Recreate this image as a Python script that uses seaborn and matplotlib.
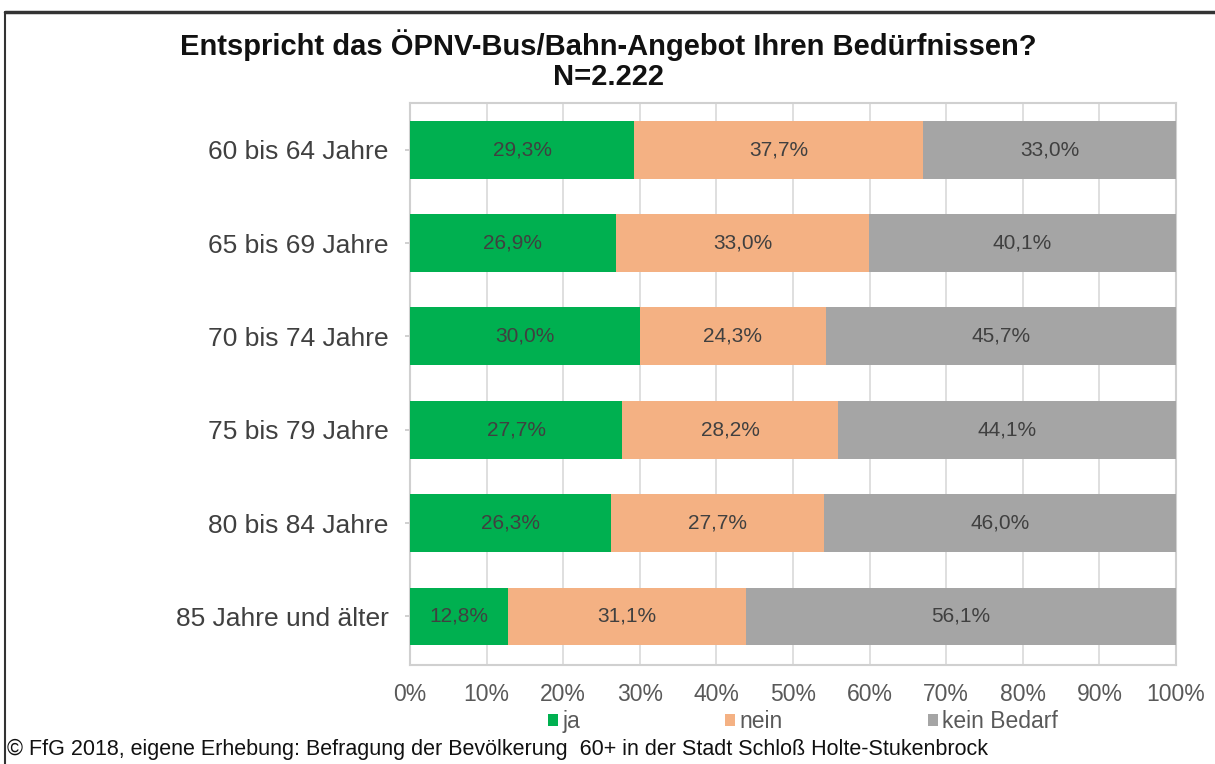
import matplotlib
matplotlib.use("Agg")
import matplotlib.pyplot as plt
import seaborn as sns
import pandas as pd
import numpy as np
from matplotlib.lines import Line2D
from matplotlib.patches import Patch

categories = ["60 bis 64 Jahre", "65 bis 69 Jahre", "70 bis 74 Jahre",
              "75 bis 79 Jahre", "80 bis 84 Jahre", "85 Jahre und älter"]
ja = [29.3, 26.9, 30.0, 27.7, 26.3, 12.8]
nein = [37.7, 33.0, 24.3, 28.2, 27.7, 31.1]
kein_bedarf = [33.0, 40.1, 45.7, 44.1, 46.0, 56.1]
series_names = ["ja", "nein", "kein Bedarf"]
xticks = [0, 10, 20, 30, 40, 50, 60, 70, 80, 90, 100]

colors = ["#00B050", "#F4B183", "#A5A5A5"]

sns.set_theme(style="white")
plt.rcParams['font.family'] = ['Liberation Sans', 'DejaVu Sans']

fig = plt.figure(figsize=(12.15, 7.64), dpi=100)
ax = fig.add_axes([0.3374, 0.1296, 0.6305, 0.7356])

df = pd.DataFrame({"cat": categories, "ja": ja, "nein": nein, "kein": kein_bedarf})
df["c1"] = df["ja"]
df["c2"] = df["ja"] + df["nein"]
df["c3"] = df["c2"] + df["kein"]

for col, colr in zip(["c3", "c2", "c1"], colors[::-1]):
    sns.barplot(data=df, y="cat", x=col, orient="h", color=colr, width=0.62,
                saturation=1, ax=ax, zorder=3, linewidth=0)

# labels
for i in range(len(categories)):
    starts = [0, ja[i], ja[i] + nein[i]]
    vals = [ja[i], nein[i], kein_bedarf[i]]
    for s, v in zip(starts, vals):
        ax.text(s + v / 2, i, f"{v:.1f}%".replace(".", ","), ha="center", va="center",
                fontsize=15, color="#404040", zorder=5)

ax.set_xlim(0, 100)
ax.set_ylim(5.52, -0.5)
ax.set_xticks(xticks)
ax.set_xticklabels([f"{t}%" for t in xticks], fontsize=16.5, color="#595959")
ax.tick_params(axis="y", labelsize=19, labelcolor="#404040", length=7, color="#C8C8C8",
               direction="inout", left=True, pad=12, width=1.2)
ax.tick_params(axis="x", length=0, pad=13)
ax.set_xlabel("")
ax.set_ylabel("")
ax.grid(axis="x", color="#D9D9D9", linewidth=1.2, zorder=0)
ax.set_axisbelow(True)
for sp in ax.spines.values():
    sp.set_visible(True)
    sp.set_color("#D0D0D0")
    sp.set_linewidth(1.5)

# legend
handles = [Patch(facecolor=c, edgecolor="none") for c in colors]
fig.legend(handles, series_names, loc="center", bbox_to_anchor=(0.661, 0.055),
           ncol=3, frameon=False, fontsize=16.5, handlelength=0.45, handleheight=0.45,
           handletextpad=0.2, columnspacing=6.3, labelcolor="#595959",
           borderpad=0, borderaxespad=0)

fig.text(0.501, 0.941, "Entspricht das ÖPNV-Bus/Bahn-Angebot Ihren Bedürfnissen?",
         ha="center", va="center", fontsize=21, fontweight="bold", color="#111111")
fig.text(0.501, 0.8995, "N=2.222", ha="center", va="center", fontsize=21,
         fontweight="bold", color="#111111")

fig.text(0.006, 0.019, "© FfG 2018, eigene Erhebung: Befragung der Bevölkerung  60+ in der Stadt Schloß Holte-Stukenbrock",
         ha="left", va="center", fontsize=15.5, color="#111111")

# frame lines
fig.add_artist(Line2D([0.004, 1.0], [0.984, 0.984], transform=fig.transFigure,
                      color="#333333", linewidth=2.5))
fig.add_artist(Line2D([0.004, 0.004], [0.0, 0.984], transform=fig.transFigure,
                      color="#333333", linewidth=1.5))

fig.savefig("out.png", dpi=100)
